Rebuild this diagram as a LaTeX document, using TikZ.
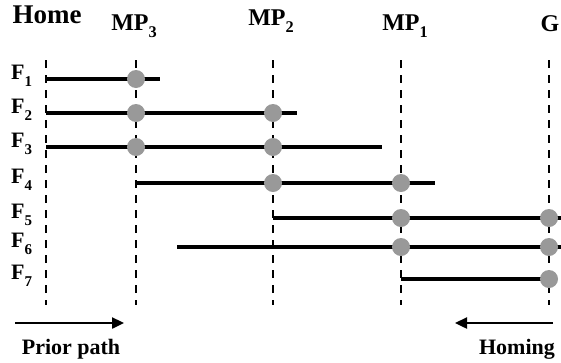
\documentclass[tikz,border=0pt]{standalone}
\usepackage{fontspec}
\setmainfont{Liberation Serif}
\usetikzlibrary{arrows.meta}
\definecolor{dotgray}{HTML}{999999}
\newcommand{\lsub}[1]{\raisebox{-0.32em}{\scalebox{0.68}{#1}}}
\begin{document}
\begin{tikzpicture}[x=1pt,y=-1pt,
  bar/.style={line width=4.5pt},
  guide/.style={line width=2.4pt, dash pattern=on 8pt off 7pt},
  dot/.style={circle, fill=dotgray, inner sep=0pt, minimum size=18pt},
  flab/.style={font=\bfseries\fontsize{22}{26}\selectfont, anchor=base west, inner sep=0pt},
  head/.style={font=\bfseries\fontsize{24}{28}\selectfont, anchor=base, inner sep=0pt},
  foot/.style={font=\bfseries\fontsize{22}{26}\selectfont, anchor=base, inner sep=0pt},
  dirarrow/.style={line width=2.4pt, -{Triangle[length=12pt,width=11pt]}}]
\useasboundingbox (0,0) rectangle (561,362);
% headers
\node[head, font=\bfseries\fontsize{27}{30}\selectfont] (home) at (47,23) {Home};
\node[head] (mp3) at (134,30) {MP\lsub{3}};
\node[head] (mp2) at (271,25) {MP\lsub{2}};
\node[head] (mp1) at (405,30) {MP\lsub{1}};
\node[head] (g) at (550,31) {G};
% dashed guides
\foreach \n/\x in {H/46, 3/136, 2/273, 1/401, G/549}{
  \coordinate (t\n) at (\x,60);
  \coordinate (b\n) at (\x,305);
  \draw[guide] (t\n) -- (b\n);
}
% row labels
\foreach \i/\y in {1/79, 2/113, 3/147, 4/183, 5/218, 6/247, 7/279}{
  \node[flab] (f\i) at (11,\y) {F\lsub{\i}};
}
% bars
\coordinate (s1) at (46,79);  \coordinate (e1) at (160,79);
\coordinate (s2) at (46,113); \coordinate (e2) at (297,113);
\coordinate (s3) at (46,147); \coordinate (e3) at (382,147);
\coordinate (s4) at (136,183); \coordinate (e4) at (435,183);
\coordinate (s5) at (273,218); \coordinate (e5) at (561,218);
\coordinate (s6) at (177,247); \coordinate (e6) at (561,247);
\coordinate (s7) at (401,279); \coordinate (e7) at (549,279);
\foreach \i in {1,...,7}{ \draw[bar] (s\i) -- (e\i); }
% dots
\node[dot] (d13) at (136,79) {};
\node[dot] (d23) at (136,113) {};
\node[dot] (d22) at (273,113) {};
\node[dot] (d33) at (136,147) {};
\node[dot] (d32) at (273,147) {};
\node[dot] (d42) at (273,183) {};
\node[dot] (d41) at (401,183) {};
\node[dot] (d51) at (401,218) {};
\node[dot] (d5G) at (549,218) {};
\node[dot] (d61) at (401,247) {};
\node[dot] (d6G) at (549,247) {};
\node[dot] (d7G) at (549,279) {};
% direction arrows
\coordinate (pa) at (15,323); \coordinate (pb) at (124,323);
\coordinate (ha) at (553,323); \coordinate (hb) at (455,323);
\draw[dirarrow] (pa) -- (pb);
\draw[dirarrow] (ha) -- (hb);
\node[foot] (prior) at (71,354) {Prior path};
\node[foot] (homing) at (517,354) {Homing};
\end{tikzpicture}
\end{document}
